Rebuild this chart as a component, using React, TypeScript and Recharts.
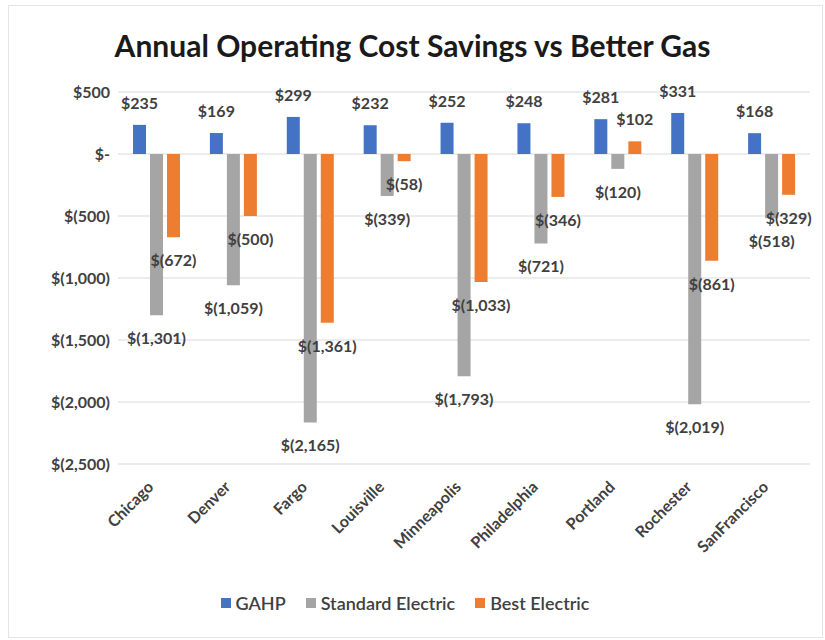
import { Bar, BarChart, CartesianGrid, LabelList, Legend, XAxis, YAxis } from "recharts";

const cities = [
  "Chicago",
  "Denver",
  "Fargo",
  "Louisville",
  "Minneapolis",
  "Philadelphia",
  "Portland",
  "Rochester",
  "SanFrancisco",
];
const gahp = [235, 169, 299, 232, 252, 248, 281, 331, 168];
const standardElectric = [-1301, -1059, -2165, -339, -1793, -721, -120, -2019, -518];
const bestElectric = [-672, -500, -1361, -58, -1033, -346, 102, -861, -329];
const yTicks = [500, 0, -500, -1000, -1500, -2000, -2500];

const FONT = "Lato, 'Open Sans', sans-serif";

const data = cities.map((city, i) => ({
  city,
  gahp: gahp[i],
  standard: standardElectric[i],
  best: bestElectric[i],
}));

// accounting style like Excel: $500, $-, $(1,000)
const money = (v: number) => {
  if (v === 0) return "$-";
  const s = Math.abs(v).toLocaleString("en-US");
  return v < 0 ? `$(${s})` : `$${s}`;
};

const ValueLabel = (props: any) => {
  const { x, y, width, height, value } = props;
  const top = Math.min(y, y + height);
  const bottom = Math.max(y, y + height);
  const cx = x + width / 2;
  const ty = value >= 0 ? top - 16 : bottom + 29;
  return (
    <text x={cx} y={ty} textAnchor="middle" fontSize={16} fontWeight={700} fill="#404040" fontFamily={FONT}>
      {money(value)}
    </text>
  );
};

const CityTick = (props: any) => {
  const { x, y, payload } = props;
  return (
    <g transform={`translate(${x - 9},${y + 9})`}>
      <text transform="rotate(-45)" textAnchor="end" dy={10} fontSize={16} fontWeight={700} fill="#404040" fontFamily={FONT}>
        {payload.value}
      </text>
    </g>
  );
};

const LegendRow = (props: any) => {
  const items = props.payload || [];
  return (
    <div style={{ display: "flex", justifyContent: "center", gap: 20, fontFamily: FONT, fontSize: 18, fontWeight: 600, color: "#404040" }}>
      {items.map((it: any) => (
        <div key={it.value} style={{ display: "flex", alignItems: "center" }}>
          <span style={{ width: 10, height: 10, background: it.color, marginRight: 5, display: "inline-block" }} />
          {it.value}
        </div>
      ))}
    </div>
  );
};

export default function App() {
  return (
    <div style={{ position: "absolute", left: 0, top: 0, width: 825, height: 640, background: "#fff" }}>
      <div
        style={{
          position: "absolute",
          left: 8,
          top: 5,
          width: 815,
          height: 633,
          border: "1px solid #e4e4e4",
          boxSizing: "border-box",
        }}
      />
      <div
        style={{
          position: "absolute",
          left: 0,
          top: 27,
          width: 825,
          textAlign: "center",
          fontFamily: FONT,
          fontWeight: 700,
          fontSize: 30,
          color: "#1a1a1a",
        }}
      >
        Annual Operating Cost Savings vs Better Gas
      </div>
      <div style={{ position: "absolute", left: 0, top: 0 }}>
        <BarChart
          width={825}
          height={640}
          data={data}
          margin={{ top: 92, right: 15, left: 0, bottom: 0 }}
          barSize={13}
          barGap={4}
        >
          <CartesianGrid vertical={false} stroke="#d9d9d9" />
          <XAxis
            dataKey="city"
            height={154}
            axisLine={false}
            tickLine={false}
            tick={<CityTick />}
            interval={0}
          />
          <YAxis
            width={118}
            domain={[-2500, 500]}
            ticks={yTicks}
            tickFormatter={money}
            axisLine={false}
            tickLine={false}
            tickSize={0}
            tickMargin={8}
            tick={{ fontSize: 16, fontWeight: 700, fill: "#404040", fontFamily: FONT }}
          />
          <Legend
            verticalAlign="bottom"
            itemSorter={null}
            content={<LegendRow />}
            wrapperStyle={{ bottom: 26 }}
          />
          <Bar dataKey="gahp" name="GAHP" fill="#4472C4" isAnimationActive={false}>
            <LabelList dataKey="gahp" content={<ValueLabel />} />
          </Bar>
          <Bar dataKey="standard" name="Standard Electric" fill="#A5A5A5" isAnimationActive={false}>
            <LabelList dataKey="standard" content={<ValueLabel />} />
          </Bar>
          <Bar dataKey="best" name="Best Electric" fill="#ED7D31" isAnimationActive={false}>
            <LabelList dataKey="best" content={<ValueLabel />} />
          </Bar>
        </BarChart>
      </div>
    </div>
  );
}
